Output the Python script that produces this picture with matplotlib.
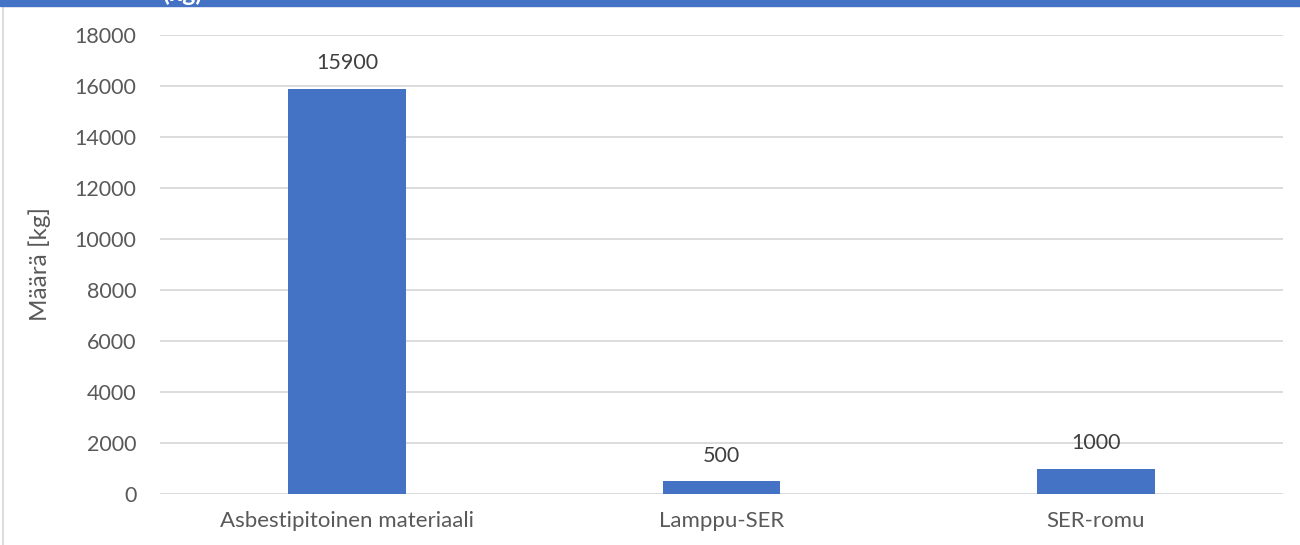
import matplotlib
matplotlib.use("Agg")
import matplotlib.pyplot as plt
from matplotlib.lines import Line2D
from matplotlib.patches import Rectangle

# data
categories = ["Asbestipitoinen materiaali", "Lamppu-SER", "SER-romu"]
amounts = [15900, 500, 1000]
y_ticks = [0, 2000, 4000, 6000, 8000, 10000, 12000, 14000, 16000, 18000]

plt.rcParams['font.family'] = ['Lato', 'DejaVu Sans']
text_col = '#595959'
bar_col = '#4472C4'

fig = plt.figure(figsize=(13, 5.45), dpi=100)
ax = fig.add_axes([160/1300, 1 - 494/545, (1283 - 160)/1300, (494 - 35)/545])

x = range(len(categories))
bars = ax.bar(x, amounts, width=0.315, color=bar_col, zorder=3)

for xi, v in zip(x, amounts):
    ax.annotate(str(v), (xi, v), xytext=(0, 11), textcoords='offset points',
                ha='center', va='bottom', fontsize=15.5, color='#404040')

ax.set_xlim(-0.5, len(categories) - 0.5)
ax.set_ylim(0, 18000)
ax.set_yticks(y_ticks)
ax.set_yticklabels([str(t) for t in y_ticks], fontsize=15.5, color=text_col)
ax.set_xticks(list(x))
ax.set_xticklabels(categories, fontsize=16, color=text_col)
ax.tick_params(axis='both', length=0)
ax.tick_params(axis='y', pad=17)
ax.tick_params(axis='x', pad=12)

ax.grid(axis='y', color='#D9D9D9', lw=1.3, zorder=0)
for s in ax.spines.values():
    s.set_visible(False)

fig.text(40/1300, 1 - 264/545, "Määrä [kg]", rotation=90, ha='center', va='center',
         fontsize=17.5, color=text_col)

# header band and frame, cut off at the top
fig.patches.append(Rectangle((0, 1 - 6/545), 1, 6/545, transform=fig.transFigure,
                             color='#4472C4', zorder=5))
fig.lines.append(Line2D([3/1300, 3/1300], [0, 1 - 6/545], transform=fig.transFigure,
                        color='#D9D9D9', lw=1.3))
fig.text(162/1300, 1 - 5/545, "(kg)", ha='left', va='bottom', fontsize=18,
         color='white', fontweight='bold', zorder=6)

plt.savefig('out.png', dpi=100)
